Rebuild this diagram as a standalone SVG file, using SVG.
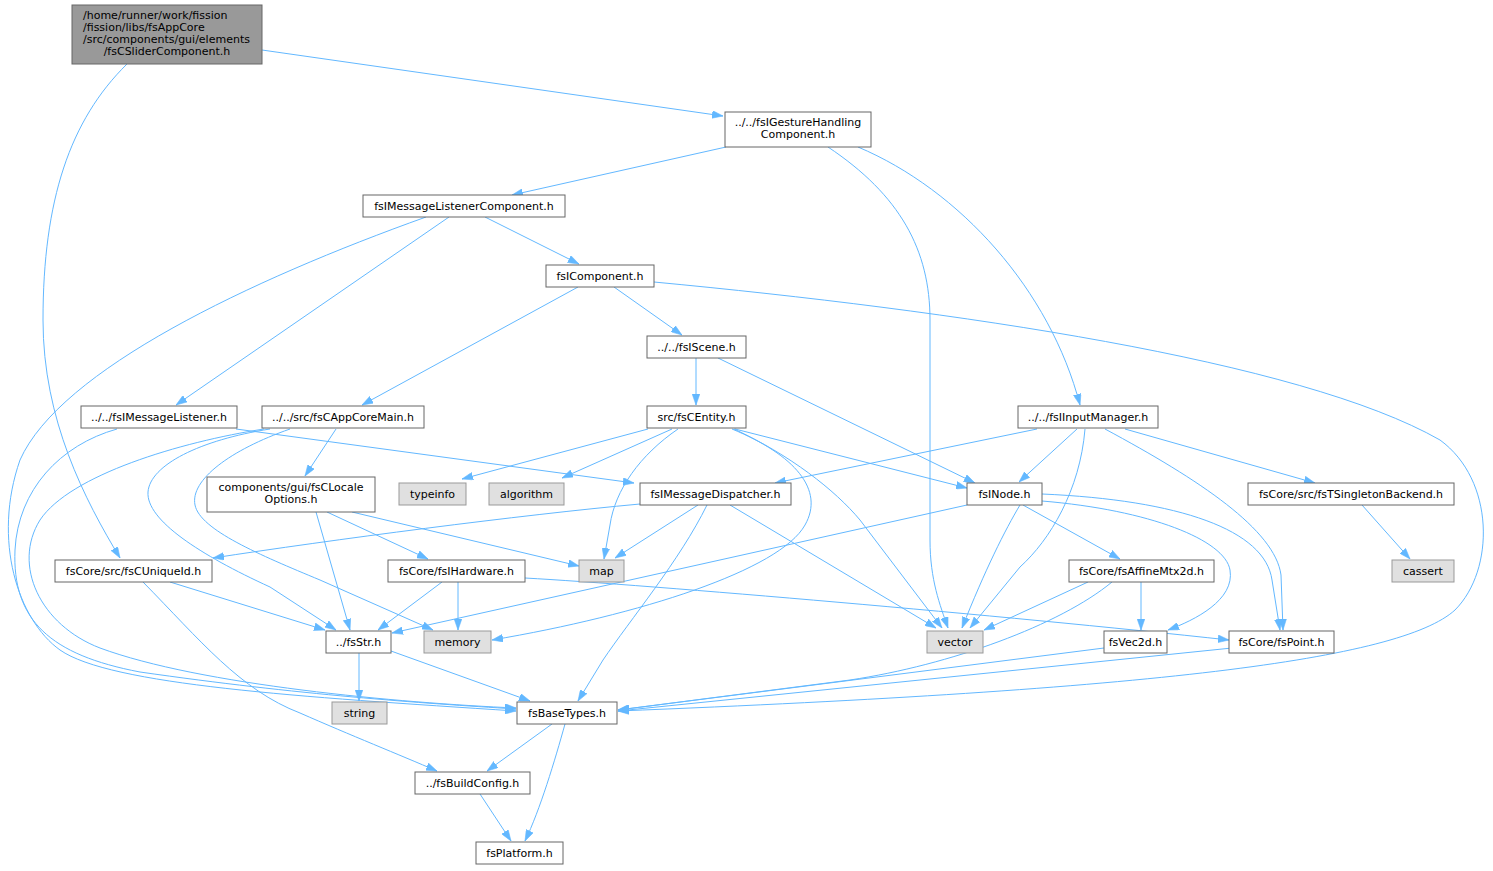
<svg xmlns="http://www.w3.org/2000/svg" width="1493" height="871" viewBox="0 0 1493 871">
<style>
.n rect{fill:#ffffff;stroke:#666666;stroke-width:1}
.x rect{fill:#e0e0e0;stroke:#999999;stroke-width:1}
.r rect{fill:#999999;stroke:#666666;stroke-width:1}
text{font-family:"DejaVu Sans","Liberation Sans",sans-serif;font-size:11px;fill:#000000}
.c{text-anchor:middle}
#edges path{fill:none;stroke:#63b8ff;stroke-width:1;marker-end:url(#ah)}
</style>
<defs>
<marker id="ah" markerUnits="userSpaceOnUse" markerWidth="11" markerHeight="8" viewBox="0 0 10 7" refX="10" refY="3.5" orient="auto">
<path d="M0,0 L10,3.5 L0,7 z" fill="#63b8ff" stroke="#63b8ff" stroke-width="0.5"/>
</marker>
</defs>
<rect width="1493" height="871" fill="#ffffff"/>
<g id="edges">
<path d="M262,50 L723,116"/>
<path d="M127,64 C70,120 43,200 43,320 C43,420 85,500 120,558"/>
<path d="M726,147 L512,195"/>
<path d="M828,147 C900,195 930,250 930,320 L930,540 C930,580 940,605 948,628"/>
<path d="M858,147 C960,190 1050,290 1080,405"/>
<path d="M485,217 L579,264"/>
<path d="M449,217 L176,405"/>
<path d="M426,217 C250,280 60,370 20,460 C-8,540 18,620 60,650 C110,685 300,697 516,711"/>
<path d="M578,287 L362,405"/>
<path d="M614,287 L682,335"/>
<path d="M654,282 C950,310 1300,360 1440,440 C1495,480 1495,570 1455,610 C1400,660 1150,690 618,711"/>
<path d="M696,358 L696,405"/>
<path d="M718,358 L975,483"/>
<path d="M117,429 C60,445 18,490 15,550 C12,620 50,655 140,672 C300,695 420,703 516,709"/>
<path d="M236,429 L634,483"/>
<path d="M264,429 C180,442 70,475 40,520 C12,565 40,625 100,648 C200,685 400,703 516,708"/>
<path d="M270,429 C200,440 150,465 148,492 C146,520 200,555 270,587 L336,630"/>
<path d="M290,429 C230,450 190,480 195,505 C200,530 260,555 320,580 L433,630"/>
<path d="M336,429 L305,476"/>
<path d="M648,429 L462,479"/>
<path d="M672,429 L562,478"/>
<path d="M678,429 C640,455 615,490 610,525 L604,559"/>
<path d="M732,429 C795,455 825,490 805,525 C780,570 640,615 492,640"/>
<path d="M734,429 C790,455 835,490 860,520 L942,628"/>
<path d="M735,429 L967,488"/>
<path d="M1037,429 L775,483"/>
<path d="M1077,429 L1019,482"/>
<path d="M1085,429 C1080,490 1050,540 1020,567 L970,628"/>
<path d="M1105,429 C1200,480 1275,530 1281,575 L1283,630"/>
<path d="M1125,429 L1315,483"/>
<path d="M1362,505 L1410,559"/>
<path d="M967,505 L392,633"/>
<path d="M1020,505 C1005,530 985,570 962,628"/>
<path d="M1023,505 L1120,559"/>
<path d="M1042,494 C1180,500 1265,530 1272,580 L1280,630"/>
<path d="M1042,501 C1150,510 1225,540 1230,570 C1235,600 1195,620 1168,630"/>
<path d="M1088,582 L984,630"/>
<path d="M1141,582 L1141,630"/>
<path d="M1112,582 C1060,625 950,665 850,680 L618,710"/>
<path d="M1104,648 L618,710"/>
<path d="M1232,648 L618,711"/>
<path d="M640,504 C520,515 330,540 213,558"/>
<path d="M698,505 L615,558"/>
<path d="M707,505 C680,560 630,620 603,660 L578,701"/>
<path d="M730,505 L936,628"/>
<path d="M316,512 L350,630"/>
<path d="M327,512 L428,559"/>
<path d="M352,512 L579,566"/>
<path d="M442,582 L378,630"/>
<path d="M458,582 L458,630"/>
<path d="M525,578 C650,585 1000,615 1229,640"/>
<path d="M359,653 L359,701"/>
<path d="M391,651 L530,701"/>
<path d="M170,582 L325,630"/>
<path d="M143,582 C200,640 240,690 300,713 C350,735 400,755 437,771"/>
<path d="M552,724 L487,771"/>
<path d="M565,724 C555,760 540,810 525,841"/>
<path d="M480,794 L511,841"/>
</g>
<g id="n_root" class="r"><rect x="72" y="5" width="190" height="59"/><text x="83" y="19">/home/runner/work/fission</text><text x="83" y="31">/fission/libs/fsAppCore</text><text x="83" y="43">/src/components/gui/elements</text><text class="c" x="167" y="55">/fsCSliderComponent.h</text></g>
<g id="n_gesture" class="n"><rect x="725" y="112" width="146" height="35"/><text class="c" x="798" y="126">../../fsIGestureHandling</text><text class="c" x="798" y="138">Component.h</text></g>
<g id="n_mlc" class="n"><rect x="363" y="195" width="202" height="22"/><text class="c" x="464" y="210">fsIMessageListenerComponent.h</text></g>
<g id="n_comp" class="n"><rect x="546" y="265" width="108" height="22"/><text class="c" x="600" y="280">fsIComponent.h</text></g>
<g id="n_scene" class="n"><rect x="647" y="336" width="99" height="22"/><text class="c" x="696.5" y="351">../../fsIScene.h</text></g>
<g id="n_ml" class="n"><rect x="81" y="406" width="156" height="22"/><text class="c" x="159" y="421">../../fsIMessageListener.h</text></g>
<g id="n_main" class="n"><rect x="262" y="406" width="162" height="22"/><text class="c" x="343" y="421">../../src/fsCAppCoreMain.h</text></g>
<g id="n_entity" class="n"><rect x="647" y="406" width="99" height="22"/><text class="c" x="696.5" y="421">src/fsCEntity.h</text></g>
<g id="n_input" class="n"><rect x="1018" y="406" width="140" height="22"/><text class="c" x="1088" y="421">../../fsIInputManager.h</text></g>
<g id="n_locale" class="n"><rect x="207" y="477" width="168" height="35"/><text class="c" x="291" y="491">components/gui/fsCLocale</text><text class="c" x="291" y="503">Options.h</text></g>
<g id="n_typeinfo" class="x"><rect x="399" y="483" width="67" height="22"/><text class="c" x="432.5" y="498">typeinfo</text></g>
<g id="n_algorithm" class="x"><rect x="489" y="483" width="75" height="22"/><text class="c" x="526.5" y="498">algorithm</text></g>
<g id="n_disp" class="n"><rect x="640" y="483" width="151" height="22"/><text class="c" x="715.5" y="498">fsIMessageDispatcher.h</text></g>
<g id="n_node" class="n"><rect x="967" y="483" width="75" height="22"/><text class="c" x="1004.5" y="498">fsINode.h</text></g>
<g id="n_tsb" class="n"><rect x="1248" y="483" width="206" height="22"/><text class="c" x="1351" y="498">fsCore/src/fsTSingletonBackend.h</text></g>
<g id="n_uid" class="n"><rect x="55" y="560" width="157" height="22"/><text class="c" x="133.5" y="575">fsCore/src/fsCUniqueId.h</text></g>
<g id="n_hw" class="n"><rect x="388" y="560" width="137" height="22"/><text class="c" x="456.5" y="575">fsCore/fsIHardware.h</text></g>
<g id="n_map" class="x"><rect x="579" y="560" width="45" height="22"/><text class="c" x="601.5" y="575">map</text></g>
<g id="n_affine" class="n"><rect x="1069" y="560" width="145" height="22"/><text class="c" x="1141.5" y="575">fsCore/fsAffineMtx2d.h</text></g>
<g id="n_cassert" class="x"><rect x="1392" y="560" width="62" height="22"/><text class="c" x="1423" y="575">cassert</text></g>
<g id="n_str" class="n"><rect x="326" y="631" width="65" height="22"/><text class="c" x="358.5" y="646">../fsStr.h</text></g>
<g id="n_memory" class="x"><rect x="424" y="631" width="67" height="22"/><text class="c" x="457.5" y="646">memory</text></g>
<g id="n_vector" class="x"><rect x="927" y="631" width="56" height="22"/><text class="c" x="955" y="646">vector</text></g>
<g id="n_vec2d" class="n"><rect x="1104" y="631" width="63" height="22"/><text class="c" x="1135.5" y="646">fsVec2d.h</text></g>
<g id="n_point" class="n"><rect x="1229" y="631" width="105" height="22"/><text class="c" x="1281.5" y="646">fsCore/fsPoint.h</text></g>
<g id="n_string" class="x"><rect x="332" y="702" width="55" height="22"/><text class="c" x="359.5" y="717">string</text></g>
<g id="n_base" class="n"><rect x="517" y="702" width="100" height="22"/><text class="c" x="567" y="717">fsBaseTypes.h</text></g>
<g id="n_build" class="n"><rect x="415" y="772" width="115" height="22"/><text class="c" x="472.5" y="787">../fsBuildConfig.h</text></g>
<g id="n_platform" class="n"><rect x="476" y="842" width="87" height="22"/><text class="c" x="519.5" y="857">fsPlatform.h</text></g>
</svg>
